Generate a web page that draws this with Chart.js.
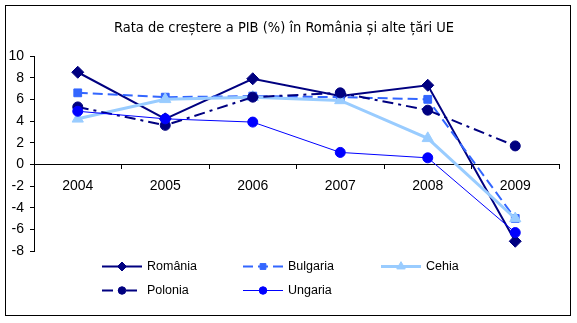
<!DOCTYPE html>
<html>
<head>
<meta charset="utf-8">
<script src="https://cdn.jsdelivr.net/npm/chart.js@4"></script>
<style>
    html, body { margin: 0; padding: 0; background: #fff; }
    #wrap { width: 577px; height: 323px; position: relative; }
</style>
</head>
<body>
<div id="wrap"><canvas id="chart" width="577" height="323"></canvas></div>
<script>
// Growth of GDP, percent per year
const years = ['2004', '2005', '2006', '2007', '2008', '2009'];
const romania = [8.5, 4.2, 7.9, 6.3, 7.3, -7.1];
const bulgaria = [6.6, 6.2, 6.3, 6.2, 6.0, -5.0];
const cehia = [4.2, 6.0, 6.2, 5.9, 2.4, -5.0];
const polonia = [5.3, 3.6, 6.2, 6.6, 5.0, 1.7];
const ungaria = [4.9, 4.2, 3.9, 1.1, 0.6, -6.3];
const yTicks = [-8, -6, -4, -2, 0, 2, 4, 6, 8, 10];

const titleText = 'Rata de creștere a PIB (%) în România și alte țări UE';

// legend slots: [x, y] of each entry's line start
const legendSlots = [[102, 266], [243, 266], [381, 266], [102, 290], [243, 290]];

const frameAndTitle = {
    id: 'frameAndTitle',
    afterDraw(chart) {
        const ctx = chart.ctx;
        ctx.save();
        ctx.strokeStyle = '#000';
        ctx.lineWidth = 1;
        ctx.strokeRect(5.5, 5.5, 565, 310);

        ctx.fillStyle = '#000';
        ctx.font = '14.5px "DejaVu Sans Condensed", "DejaVu Sans"';
        ctx.textAlign = 'center';
        ctx.textBaseline = 'middle';
        ctx.fillText(titleText, 284, 28);

        // legend
        ctx.font = '12.5px "Liberation Sans", Arial';
        ctx.textAlign = 'left';
        chart.data.datasets.forEach((ds, i) => {
            const [x, y] = legendSlots[i];
            ctx.save();
            ctx.strokeStyle = ds.borderColor;
            ctx.lineWidth = ds.borderWidth;
            ctx.setLineDash(ds.borderDash || []);
            ctx.beginPath();
            ctx.moveTo(x, y + 0.5);
            ctx.lineTo(x + 40, y + 0.5);
            ctx.stroke();
            ctx.restore();
            ctx.save();
            ctx.fillStyle = ds.pointBackgroundColor;
            ctx.strokeStyle = ds.pointBorderColor;
            ctx.lineWidth = 1;
            Chart.helpers.drawPoint(ctx, {
                pointStyle: ds.pointStyle,
                radius: ds.pointRadius * 0.75,
                rotation: ds.pointRotation || 0,
                borderWidth: 1
            }, x + 20, y + 0.5);
            ctx.restore();
            ctx.fillStyle = '#000';
            ctx.fillText(ds.label, x + 45, y + 1);
        });
        ctx.restore();
    }
};

function series(label, data, color, width, dash, style, radius, order, rotation) {
    return {
        label: label,
        data: data,
        borderColor: color,
        backgroundColor: color,
        borderWidth: width,
        borderDash: dash,
        pointStyle: style,
        pointRadius: radius,
        pointHoverRadius: radius,
        pointRotation: rotation || 0,
        pointBackgroundColor: color,
        pointBorderColor: color,
        pointBorderWidth: 1,
        tension: 0,
        order: order
    };
}

const tickFont = { family: '"Liberation Sans", Arial', size: 14 };

new Chart(document.getElementById('chart'), {
    type: 'line',
    data: {
        labels: years,
        datasets: [
            series('România', romania, '#000080', 2, [], 'rectRot', 6, 5),
            series('Bulgaria', bulgaria, '#3366FF', 2, [10, 5], 'rect', 5.5, 4),
            series('Cehia', cehia, '#99CCFF', 3, [], 'triangle', 6.5, 3),
            series('Polonia', polonia, '#000080', 2, [11, 5, 3, 5], 'circle', 5, 2),
            series('Ungaria', ungaria, '#0000FF', 1, [], 'circle', 5, 1)
        ]
    },
    options: {
        responsive: false,
        animation: false,
        events: [],
        layout: { padding: { left: 0, right: 18, top: 56, bottom: 72 } },
        plugins: {
            legend: { display: false },
            title: { display: false },
            tooltip: { enabled: false }
        },
        scales: {
            x: {
                position: { y: 0 },
                offset: true,
                grid: { drawOnChartArea: false, drawTicks: true, tickLength: 4, color: '#000', offset: true },
                border: { color: '#000', width: 1 },
                ticks: { color: '#000', font: tickFont, padding: 9, maxRotation: 0 }
            },
            y: {
                min: -8,
                max: 10,
                afterBuildTicks(scale) {
                    scale.ticks = yTicks.map(v => ({ value: v }));
                },
                afterFit(scale) { scale.width = 34; },
                grid: { drawOnChartArea: false, drawTicks: true, tickLength: 4, color: '#000' },
                border: { color: '#000', width: 1 },
                ticks: { color: '#000', font: tickFont, padding: 6 }
            }
        }
    },
    plugins: [frameAndTitle]
});
</script>
</body>
</html>
